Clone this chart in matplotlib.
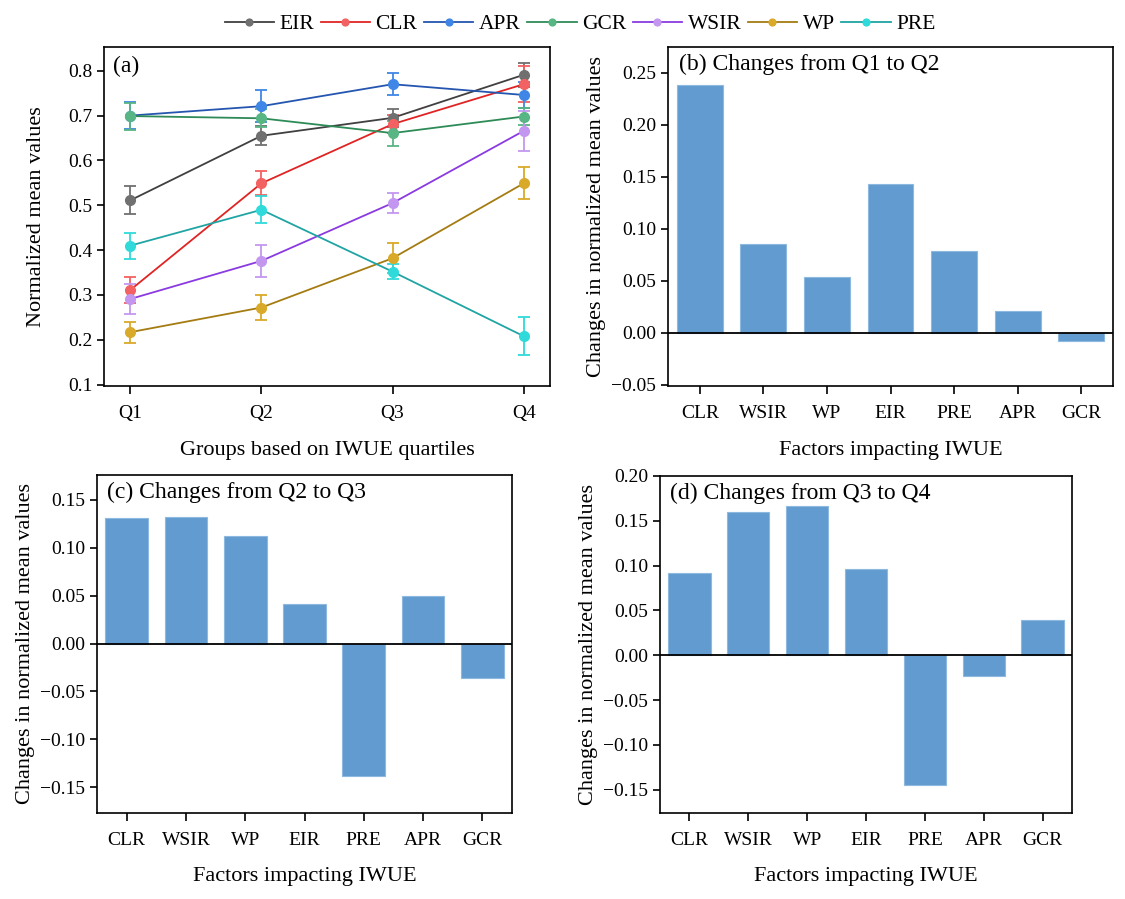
import matplotlib
matplotlib.use("Agg")
import matplotlib.pyplot as plt
import numpy as np

plt.rcParams["font.family"] = ["Liberation Serif", "DejaVu Serif"]
plt.rcParams["axes.linewidth"] = 1.2
plt.rcParams["xtick.major.width"] = 1.2
plt.rcParams["ytick.major.width"] = 1.2
plt.rcParams["xtick.major.size"] = 6
plt.rcParams["ytick.major.size"] = 5

# panel (a): normalized mean values per IWUE quartile
groups = ["Q1", "Q2", "Q3", "Q4"]
series_names = ["EIR", "CLR", "APR", "GCR", "WSIR", "WP", "PRE"]
eir  = [0.511, 0.655, 0.695, 0.791]
clr  = [0.311, 0.549, 0.681, 0.770]
apr  = [0.700, 0.721, 0.770, 0.746]
gcr  = [0.699, 0.694, 0.661, 0.698]
wsir = [0.291, 0.376, 0.505, 0.666]
wp   = [0.217, 0.272, 0.382, 0.549]
pre  = [0.410, 0.490, 0.352, 0.208]
eir_err  = [0.031, 0.021, 0.020, 0.027]
clr_err  = [0.028, 0.027, 0.020, 0.040]
apr_err  = [0.030, 0.035, 0.025, 0.030]
gcr_err  = [0.030, 0.020, 0.028, 0.020]
wsir_err = [0.033, 0.035, 0.023, 0.045]
wp_err   = [0.023, 0.028, 0.034, 0.036]
pre_err  = [0.029, 0.030, 0.017, 0.042]

line_colors   = ["#404040", "#e02424", "#2456b0", "#2e8b57", "#8a3ae0", "#a57c12", "#20a4a4"]
marker_colors = ["#707070", "#f26262", "#3f86e6", "#58b584", "#c397f0", "#d9a92a", "#30dada"]

# panels (b)-(d): changes between quartiles
factors = ["CLR", "WSIR", "WP", "EIR", "PRE", "APR", "GCR"]
chg_q1_q2 = [0.238, 0.086, 0.054, 0.143, 0.079, 0.0215, -0.0074]
chg_q2_q3 = [0.131, 0.132, 0.112, 0.0414, -0.1385, 0.050, -0.0362]
chg_q3_q4 = [0.0917, 0.160, 0.1666, 0.0961, -0.1451, -0.023, 0.0393]

W, H = 1125, 899
fig = plt.figure(figsize=(W / 100, H / 100), dpi=100)

def box(l, r, t, b):
    return [l / W, 1 - b / H, (r - l) / W, (b - t) / H]

ax_a = fig.add_axes(box(104, 550, 47, 386))
ax_b = fig.add_axes(box(668, 1113, 47, 386))
ax_c = fig.add_axes(box(97, 512, 475, 813))
ax_d = fig.add_axes(box(660, 1072, 476, 813))

TICK_FS = 14
LAB_FS = 16
TITLE_FS = 17

def fmt(decimals):
    return matplotlib.ticker.FuncFormatter(
        lambda v, p: f"{v:.{decimals}f}".replace("-", "\u2212") if abs(v) > 1e-9 else f"{0:.{decimals}f}")

# (a)
x = np.arange(len(groups))
vals = [eir, clr, apr, gcr, wsir, wp, pre]
errs = [eir_err, clr_err, apr_err, gcr_err, wsir_err, wp_err, pre_err]
handles = []
for name, v, e, lc, mc in zip(series_names, vals, errs, line_colors, marker_colors):
    ax_a.errorbar(x, v, yerr=e, fmt="none", ecolor=mc, elinewidth=1.3, capsize=4, capthick=1.3, zorder=2)
    h, = ax_a.plot(x, v, color=lc, lw=1.3, marker="o", ms=7, mfc=mc, mec=mc, label=name, zorder=3)
    handles.append(h)

ax_a.set_xlim(-0.2, 3.2)
ax_a.set_ylim(0.097, 0.853)
ax_a.set_xticks(x)
ax_a.set_xticklabels(groups)
ax_a.set_yticks(np.arange(0.1, 0.81, 0.1))
ax_a.yaxis.set_major_formatter(fmt(1))
ax_a.set_ylabel("Normalized mean values", fontsize=LAB_FS, labelpad=16)
ax_a.set_xlabel("Groups based on IWUE quartiles", fontsize=LAB_FS, labelpad=13)
ax_a.text(0.02, 0.975, "(a)", transform=ax_a.transAxes, fontsize=TITLE_FS, va="top", ha="left")

# bar panels
def bar_panel(ax, data, title, ylim, yticks, ylabel=True):
    xb = np.arange(len(factors))
    ax.bar(xb, data, width=0.72, color="#629bcf", edgecolor="#8db8e0", lw=0.8, zorder=2)
    ax.axhline(0, color="black", lw=1.3, zorder=3)
    ax.set_xlim(-0.5, len(factors) - 0.5)
    ax.set_ylim(*ylim)
    ax.set_xticks(xb)
    ax.set_xticklabels(factors)
    ax.set_yticks(yticks)
    ax.yaxis.set_major_formatter(fmt(2))
    ax.set_xlabel("Factors impacting IWUE", fontsize=LAB_FS, labelpad=13)
    if ylabel:
        ax.set_ylabel("Changes in normalized mean values", fontsize=LAB_FS)
    ax.text(0.025, 0.98, title, transform=ax.transAxes, fontsize=TITLE_FS, va="top", ha="left")

bar_panel(ax_b, chg_q1_q2, "(b) Changes from Q1 to Q2", (-0.051, 0.275), np.arange(-0.05, 0.251, 0.05))
bar_panel(ax_c, chg_q2_q3, "(c) Changes from Q2 to Q3", (-0.177, 0.176), np.arange(-0.15, 0.151, 0.05))
bar_panel(ax_d, chg_q3_q4, "(d) Changes from Q3 to Q4", (-0.176, 0.20), np.arange(-0.15, 0.201, 0.05))

for ax in (ax_a, ax_b, ax_c, ax_d):
    ax.tick_params(axis="both", labelsize=TICK_FS, direction="out", top=False, right=False)
    ax.tick_params(axis="x", pad=8)

fig.legend(handles=handles, labels=series_names, loc="upper center", bbox_to_anchor=(580 / W, 1.006),
           ncol=7, frameon=False, fontsize=15.5, handlelength=2.3, handletextpad=0.25,
           columnspacing=0.3, markerscale=0.7)

fig.savefig("out.png", dpi=100)
